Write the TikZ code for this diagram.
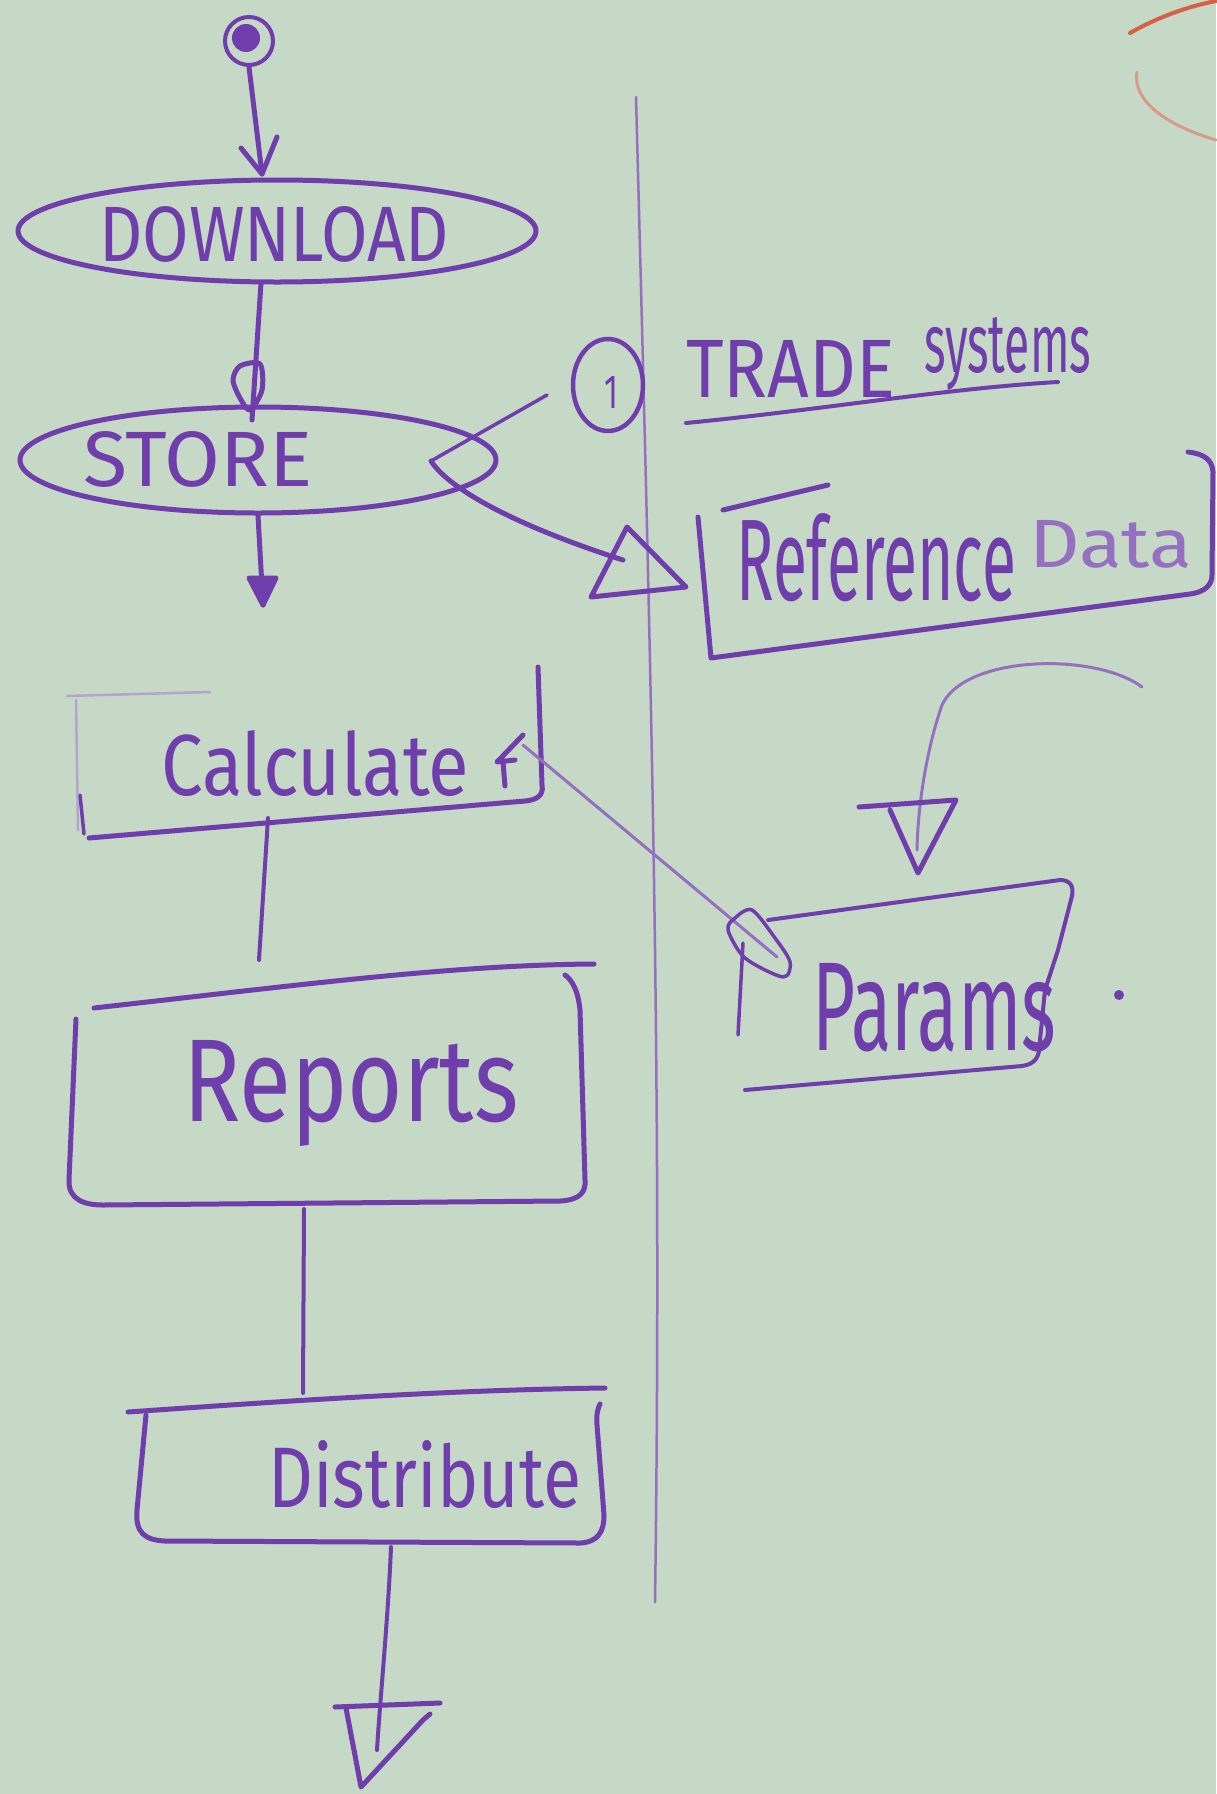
\documentclass[tikz,border=0pt]{standalone}
\usepackage{fontspec}
\usepackage{graphicx}
\setmainfont{Fira Sans}
\usetikzlibrary{shapes.geometric}

\definecolor{board}{RGB}{198,216,198}
\definecolor{ink}{RGB}{112,62,172}
\definecolor{inklight}{RGB}{150,112,192}
\definecolor{inkfaint}{RGB}{180,165,205}
\definecolor{redmark}{RGB}{214,96,70}
\definecolor{redfaint}{RGB}{214,156,136}

\tikzset{
  pen/.style={draw=ink, line width=5pt, line cap=round, line join=round},
  midpen/.style={draw=ink, line width=3.5pt, line cap=round, line join=round},
  thinpen/.style={draw=inklight, line width=3pt, line cap=round, line join=round},
  faintpen/.style={draw=inkfaint, line width=2.5pt, line cap=round},
  word/.style={text=ink, inner sep=0pt, anchor=base west},
  oval/.style={pen, ellipse, inner sep=0pt},
}

% handwritten word squeezed into a given width and height
\newcommand{\hw}[3]{\resizebox{#1pt}{#2pt}{#3}}

\begin{document}
\begin{tikzpicture}[x=1pt,y=-1pt]
\fill[board] (0,0) rectangle (1216,1794);
\useasboundingbox (0,0) rectangle (1216,1794);

% swimlane divider
\draw[thinpen, line width=2.5pt] (636,97) .. controls (652,700) and (662,1100) .. (655,1602);

% leftover marks of another drawing
\draw[redmark, line width=4pt, line cap=round] (1130,33) .. controls (1160,16) and (1190,6) .. (1216,1);
\draw[redfaint, line width=3pt, line cap=round] (1137,72) .. controls (1132,100) and (1165,125) .. (1216,140);

% ---------- main flow ----------
\node[circle, draw=ink, line width=4pt, minimum size=48pt, inner sep=0pt] (start) at (249,41) {};
\fill[ink] (246,38) circle (14pt);

\node[oval, minimum width=518pt, minimum height=102pt] (download) at (277,231) {};
\node[word] (tdownload) at (99,261) {\hw{350}{55}{DOWNLOAD}};

\coordinate (a1) at (262,174);
\draw[pen] (start.south) -- (a1);
\draw[pen] (241,148) -- (a1) -- (277,137);

\node[oval, minimum width=476pt, minimum height=106pt] (store) at (258,460) {};
\node[word] (tstore) at (83,486) {\hw{229}{55}{STORE}};

\coordinate (d1) at (261,283);
\coordinate (s1) at (252,420);
\draw[pen] (d1) -- (s1);
\draw[pen] plot[smooth cycle] coordinates {(260,364) (240,366) (233,380) (240,398) (250,410) (262,390)};

\coordinate (s2) at (263,605);
\draw[pen] (store.south) -- (s2);
\draw[pen, fill=ink] (249,578) -- (s2) -- (276,578) -- cycle;

% ---------- trade system note ----------
\node[ellipse, draw=ink, line width=4.5pt, minimum width=70pt, minimum height=92pt, inner sep=0pt] (one) at (608,385) {};
\node[text=ink, inner sep=0pt] (tone) at (611,392) {\hw{14}{32}{1}};
\coordinate (s3) at (431,461);
\coordinate (c1) at (547,395);
\draw[midpen] (s3) -- (c1);

\node[word] (trade) at (686,397) {\hw{209}{57}{TRADE}};
\node[word] (tsys) at (924,372) {\hw{167}{55}{systems}};
\draw[midpen, line width=4pt] (686,423) .. controls (820,410) and (950,388) .. (1058,382);

% ---------- reference data ----------
\coordinate (r1) at (623,560);
\draw[pen] (s3) .. controls (447,486) and (505,522) .. (r1);
\draw[pen] (627,527) -- (591,597) -- (686,587) -- cycle;

\draw[pen] (723,510) -- (828,485);
\draw[pen] (698,517) -- (711,658) -- (1190,594) .. controls (1205,592) and (1212,585) .. (1212,575)
  -- (1213,472) .. controls (1212,460) and (1205,454) .. (1188,452);
\node[word] (tref) at (736,600) {\hw{280}{87}{Reference}};
\node[word, text=inklight] (tdata) at (1029,567) {\hw{163}{47}{Data}};

% ---------- calculate ----------
\draw[faintpen] (67,696) -- (210,692);
\draw[faintpen] (76,700) -- (78,830);
\draw[pen] (538,667) -- (542,785) .. controls (544,796) and (536,800) .. (525,801) -- (89,838);
\draw[midpen] (80,795) -- (84,834);
\node[word] (tcalc) at (161,795) {\hw{308}{65}{Calculate}};
\coordinate (c2) at (523,745);
\draw[pen] (523,735) -- (497,762) -- (515,760);
\draw[pen] (503,762) -- (505,786);

\draw[midpen, line width=4pt] (268,818) -- (259,960);

% ---------- params ----------
\coordinate (p1) at (777,957);
\draw[thinpen] (c2) -- (p1);
\draw[midpen] plot[smooth cycle] coordinates {(728,930) (745,958) (783,977) (790,962) (775,938) (752,910) (735,918)};
\draw[midpen] (743,943) -- (738,1035);

\draw[midpen, line width=4pt] (768,920) -- (1060,880) .. controls (1070,880) and (1074,886) .. (1072,896)
  -- (1058,950) -- (1045,990) -- (1040,1040) .. controls (1040,1058) and (1035,1064) .. (1022,1066) -- (745,1090);
\node[word] (tpar) at (812,1050) {\hw{244}{87}{Params}};
\fill[ink] (1119,995) circle (5pt);

\coordinate (p2) at (917,850);
\draw[thinpen] (1142,687) .. controls (1095,652) and (965,655) .. (942,705) .. controls (928,745) and (918,800) .. (p2);
\draw[pen] (859,807) -- (956,800) -- (918,873) -- (890,810);

% ---------- reports ----------
\draw[pen] (94,1008) .. controls (300,985) and (450,965) .. (594,964);
\draw[pen] (76,1019) -- (69,1180) .. controls (68,1200) and (85,1205) .. (103,1205) -- (560,1201)
  .. controls (580,1200) and (586,1192) .. (585,1180) -- (580,1010) .. controls (578,990) and (572,980) .. (565,975);
\node[word] (trep) at (183,1121) {\hw{335}{81}{Reports}};

\draw[midpen, line width=4pt] (304,1209) -- (303,1393);

% ---------- distribute ----------
\draw[pen] (128,1412) .. controls (300,1400) and (450,1390) .. (605,1388);
\draw[pen] (146,1415) -- (137,1510) .. controls (135,1533) and (145,1540) .. (165,1541) -- (580,1543)
  .. controls (598,1542) and (604,1532) .. (604,1515) -- (597,1425) .. controls (596,1415) and (598,1408) .. (600,1404);
\node[word] (tdist) at (268,1507) {\hw{313}{67}{Distribute}};

\coordinate (e1) at (377,1750);
\draw[midpen, line width=4pt] (391,1547) .. controls (388,1620) and (380,1700) .. (e1);
\draw[pen] (335,1707) -- (440,1703);
\draw[pen] (346,1708) -- (361,1787) -- (423,1720) -- (430,1714);
\end{tikzpicture}
\end{document}
